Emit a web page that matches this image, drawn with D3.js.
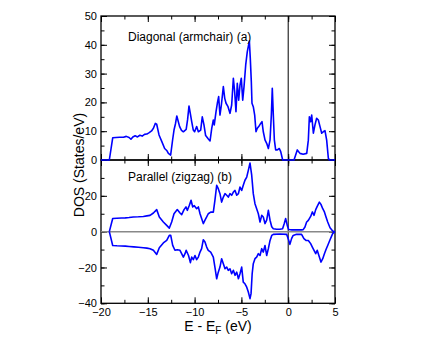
<!DOCTYPE html>
<html lang="en">
<head>
<meta charset="UTF-8">
<title>DOS</title>
<script src="https://d3js.org/d3.v7.min.js"></script>
<style>
  body { margin: 0; background: #fff; }
  text { font-family: "Liberation Sans", Arial, Helvetica, sans-serif; }
</style>
</head>
<body>
<svg id="chart" width="436" height="337"></svg>
<script>
// panel (a): diagonal (armchair)
const topE = [-20, -19.11, -18.75, -18.4, -18.0, -17.6, -17.3, -17.0, -16.8, -16.6, -16.35, -16.1, -15.85, -15.6, -15.35, -15.1, -14.85, -14.6, -14.4, -14.2, -14.05, -13.8, -13.5, -13.2, -12.95, -12.8, -12.56, -12.34, -12.2, -12.05, -11.9, -11.6, -11.4, -11.2, -10.9, -10.75, -10.6, -10.45, -10.31, -10.14, -10.0, -9.78, -9.6, -9.35, -9.18, -9.0, -8.82, -8.53, -8.35, -8.17, -8.0, -7.9, -7.71, -7.57, -7.43, -7.29, -7.14, -6.93, -6.78, -6.64, -6.43, -6.22, -6.04, -5.86, -5.72, -5.58, -5.44, -5.29, -5.15, -5.01, -4.86, -4.72, -4.54, -4.37, -4.26, -4.15, -4.05, -3.94, -3.87, -3.73, -3.58, -3.44, -3.30, -3.15, -2.94, -2.80, -2.66, -2.48, -2.30, -2.12, -1.94, -1.80, -1.70, -1.59, -1.48, -1.34, -1.16, -0.95, -0.80, -0.59, 0.62, 0.97, 1.26, 1.6, 1.98, 2.15, 2.26, 2.40, 2.51, 2.69, 2.86, 3.04, 3.22, 3.40, 3.58, 3.75, 3.93, 4.11, 4.29, 4.4, 5];
const topDOS = [0, 0, 7.7, 7.8, 7.9, 7.9, 8.2, 7.8, 7.2, 8.0, 8.4, 8.0, 8.6, 8.3, 8.9, 9.0, 9.5, 10.1, 11.0, 12.7, 12.4, 8.7, 6.4, 4.0, 3.2, 2.3, 1.7, 7.2, 10.4, 12.5, 15.3, 11.6, 10.3, 9.8, 10.6, 14, 18.75, 16, 13.3, 10.4, 9.8, 11.6, 9.8, 10.4, 15, 12.2, 8.5, 7.3, 6.6, 11, 13.9, 12.2, 16.8, 19.7, 22, 15.6, 19.1, 25.5, 21.4, 19.7, 18.5, 16.2, 19.1, 28.4, 23.7, 16.8, 26.6, 20.8, 26, 28.4, 20.8, 25.5, 33, 37.6, 39.4, 41.3, 35.3, 27.2, 19.7, 18.5, 15.6, 9.8, 11, 11.6, 12.7, 13.3, 9.8, 7, 5.8, 4.0, 7, 15.6, 24.9, 15.6, 7, 3.5, 3.5, 4, 2.9, 0, 0, 3.5, 2.3, 2.0, 2.3, 6.9, 15, 13.3, 15.6, 9.3, 12.2, 14.5, 13.9, 11.6, 9.3, 9.8, 10.2, 6.9, 0.6, 0, 0];

// panel (b): parallel (zigzag), spin up
const upE = [-19.11, -18.75, -18.3, -17.8, -17.4, -17.0, -16.55, -16.0, -15.48, -15.1, -14.76, -14.4, -14.05, -13.77, -13.34, -12.98, -12.7, -12.45, -12.2, -11.85, -11.56, -11.38, -11.13, -10.92, -10.78, -10.56, -10.38, -10.2, -10.03, -9.78, -9.6, -9.42, -9.25, -9.07, -8.89, -8.71, -8.54, -8.28, -8.0, -7.83, -7.64, -7.47, -7.29, -7.11, -6.93, -6.75, -6.57, -6.4, -6.22, -6.04, -5.86, -5.68, -5.5, -5.32, -5.15, -4.97, -4.8, -4.62, -4.43, -4.26, -4.08, -3.9, -3.73, -3.55, -3.37, -3.19, -3.01, -2.83, -2.66, -2.48, -2.3, -2.12, -1.94, -1.76, -1.59, -1.23, -0.88, -0.6, -0.42, -0.27, -0.1, 0.05, 0.4, 0.9, 1.4, 1.6, 1.79, 1.97, 2.15, 2.40, 2.58, 2.76, 2.94, 3.1, 3.33, 3.5, 3.69, 3.87, 4.04, 4.22, 4.47, 4.75, 5.0];
const upDOS = [0, 7.3, 7.5, 7.6, 7.7, 7.9, 8.2, 8.3, 8.5, 8.8, 9.1, 10.4, 12.3, 8.2, 5.4, 3.5, 2.0, 5.4, 10, 12.3, 10.4, 9.5, 12.3, 13.8, 11.9, 14.7, 17.5, 13.8, 14.5, 12.8, 13.8, 10, 7.3, 4.5, 6.4, 8.2, 10, 10.9, 10.9, 17.5, 25.9, 24, 21.2, 16.5, 19.3, 21.2, 20.3, 19.3, 21.2, 20.3, 22.1, 23, 20.3, 21.2, 24.9, 23, 25.9, 28.7, 30.5, 34.2, 38.3, 31.5, 21.2, 15.6, 12.8, 10, 5.4, 9.1, 8.2, 4.5, 6.4, 11.9, 6.4, 2.7, 1.6, 1.3, 1.3, 1.6, 4.5, 7.3, 3.5, 1.2, 1.0, 1.0, 1.0, 1.1, 2.6, 5.4, 6.3, 8.5, 11, 9.1, 12.3, 14.1, 16.5, 15.2, 12.8, 11, 8.2, 5.4, 2.2, 0.4, 0];

// panel (b): spin down
const downE = [-19.11, -18.75, -18.3, -17.8, -17.4, -17.0, -16.5, -16.0, -15.48, -15.1, -14.76, -14.4, -14.05, -13.77, -13.34, -12.98, -12.7, -12.55, -12.34, -12.1, -11.85, -11.56, -11.2, -11.0, -10.9, -10.65, -10.45, -10.31, -10.14, -9.96, -9.78, -9.6, -9.42, -9.25, -9.07, -8.89, -8.71, -8.54, -8.28, -8.0, -7.83, -7.64, -7.47, -7.29, -7.11, -6.93, -6.75, -6.57, -6.4, -6.22, -6.04, -5.86, -5.68, -5.5, -5.32, -5.15, -4.97, -4.8, -4.62, -4.43, -4.26, -4.08, -3.97, -3.85, -3.73, -3.55, -3.37, -3.19, -3.01, -2.83, -2.66, -2.48, -2.3, -2.12, -1.94, -1.76, -1.59, -0.88, -0.17, 0.0, 0.18, 0.36, 0.53, 0.89, 1.43, 1.68, 1.9, 2.15, 2.4, 2.58, 2.76, 2.94, 3.1, 3.33, 3.5, 3.69, 3.87, 4.04, 4.22, 4.47, 4.75, 5.0];
const downDOS = [0, -7.7, -7.9, -8.0, -8.1, -8.3, -8.5, -8.7, -9.0, -9.2, -9.5, -10.4, -12.7, -9.0, -6.3, -4.9, -2.1, -2.1, -7.7, -10.4, -10.1, -10.4, -14.2, -12, -10.4, -13.3, -17.3, -14.2, -15.6, -13.3, -15.6, -14.2, -11.4, -9.5, -4.5, -5.8, -8.6, -10.4, -11.4, -14.2, -19.8, -26.3, -22.6, -19.8, -15.1, -17.9, -20.7, -19.8, -21.6, -20.7, -23.5, -21.6, -24.4, -22.6, -26.3, -23.5, -19.8, -28.2, -29.1, -31, -33.7, -37.4, -34.6, -23.5, -17.9, -15.1, -14.2, -12.3, -13.3, -9.5, -11.4, -7.7, -13.3, -9.5, -4.9, -2.1, -1.5, -1.3, -1.5, -3.9, -7.1, -3.9, -2.1, -1.5, -1.5, -3.9, -4.9, -4.9, -6.7, -8.6, -10.4, -12.3, -10.4, -14.2, -17, -15.1, -12.3, -10, -7.7, -4.5, -1.1, 0];

const xTicks = [-20, -15, -10, -5, 0, 5];
const topTicks = [0, 10, 20, 30, 40, 50];
const botTicks = [-40, -20, 0, 20];

const svg = d3.select("#chart");
const left = 101, right = 335;
const topPanel = {y0: 16, y1: 160};
const botPanel = {y0: 160, y1: 303.3};

const x = d3.scaleLinear().domain([-20, 5]).range([left, right]);
const yTop = d3.scaleLinear().domain([0, 50]).range([topPanel.y1, topPanel.y0]);
const yBot = d3.scaleLinear().domain([-40, 40]).range([botPanel.y1, botPanel.y0]);

const W = right - left;

function styleAxis(g) {
  g.select(".domain").remove();
  g.selectAll("line").attr("stroke", "#000").attr("stroke-width", 1);
  g.selectAll("text").attr("font-size", 11).attr("fill", "#000");
}

function drawPanel(y, p, majorY, minorY, labelsY, showX) {
  const h = p.y1 - p.y0;
  // x ticks, bottom (pointing up) and top (pointing down)
  const minorX = d3.range(-20, 5.01, 2.5);
  svg.append("g").attr("transform", `translate(0,${p.y1})`)
    .call(d3.axisBottom(x).tickValues(minorX).tickSize(-3.5).tickFormat(""))
    .call(styleAxis);
  svg.append("g").attr("transform", `translate(0,${p.y1})`)
    .call(d3.axisBottom(x).tickValues(xTicks).tickSize(-6).tickPadding(5)
      .tickFormat(showX ? d3.format("d") : ""))
    .call(styleAxis);
  svg.append("g").attr("transform", `translate(0,${p.y0})`)
    .call(d3.axisTop(x).tickValues(minorX).tickSize(-3.5).tickFormat(""))
    .call(styleAxis);
  svg.append("g").attr("transform", `translate(0,${p.y0})`)
    .call(d3.axisTop(x).tickValues(xTicks).tickSize(-6).tickFormat(""))
    .call(styleAxis);
  // y ticks left and right
  svg.append("g").attr("transform", `translate(${left},0)`)
    .call(d3.axisLeft(y).tickValues(minorY).tickSize(-3.5).tickFormat(""))
    .call(styleAxis);
  svg.append("g").attr("transform", `translate(${left},0)`)
    .call(d3.axisLeft(y).tickValues(majorY).tickSize(-6).tickFormat(""))
    .call(styleAxis);
  svg.append("g").attr("transform", `translate(${left},0)`)
    .call(d3.axisLeft(y).tickValues(labelsY).tickSize(0).tickPadding(4).tickFormat(d3.format("d")))
    .call(styleAxis);
  svg.append("g").attr("transform", `translate(${right},0)`)
    .call(d3.axisRight(y).tickValues(minorY).tickSize(-3.5).tickFormat(""))
    .call(styleAxis);
  svg.append("g").attr("transform", `translate(${right},0)`)
    .call(d3.axisRight(y).tickValues(majorY).tickSize(-6).tickFormat(""))
    .call(styleAxis);
  // frame
  svg.append("rect").attr("x", left).attr("y", p.y0).attr("width", W).attr("height", h)
    .attr("fill", "none").attr("stroke", "#000").attr("stroke-width", 1.3);
  // Fermi level
  svg.append("line").attr("x1", x(0)).attr("x2", x(0)).attr("y1", p.y0).attr("y2", p.y1)
    .attr("stroke", "#000").attr("stroke-width", 1);
}

drawPanel(yTop, topPanel, topTicks, d3.range(0, 50.1, 5), topTicks, false);
drawPanel(yBot, botPanel, [-40, -20, 0, 20, 40], d3.range(-40, 40.1, 10), botTicks, true);

// zero line in lower panel
svg.append("line").attr("x1", left).attr("x2", right).attr("y1", yBot(0)).attr("y2", yBot(0))
  .attr("stroke", "#888").attr("stroke-width", 1.5);

function curve(xs, ys, y) {
  const line = d3.line().x(d => x(d[0])).y(d => y(d[1]));
  svg.append("path").datum(xs.map((e, i) => [e, ys[i]]))
    .attr("d", line).attr("fill", "none").attr("stroke", "#0000ff")
    .attr("stroke-width", 1.6).attr("stroke-linejoin", "round");
}
curve(topE, topDOS, yTop);
curve(upE, upDOS, yBot);
curve(downE, downDOS, yBot);

// labels
svg.append("text").attr("x", 128).attr("y", 41).attr("font-size", 12).text("Diagonal (armchair) (a)");
svg.append("text").attr("x", 128).attr("y", 181).attr("font-size", 12).text("Parallel (zigzag) (b)");

svg.append("text").attr("transform", `translate(84,165) rotate(-90)`)
  .attr("text-anchor", "middle").attr("font-size", 14).text("DOS (States/eV)");

const xl = svg.append("text").attr("x", (left + right) / 2).attr("y", 331)
  .attr("text-anchor", "middle").attr("font-size", 14);
xl.append("tspan").text("E - E");
xl.append("tspan").attr("font-size", 10).attr("dy", 3).text("F");
xl.append("tspan").attr("dy", -3).text(" (eV)");
</script>
</body>
</html>
